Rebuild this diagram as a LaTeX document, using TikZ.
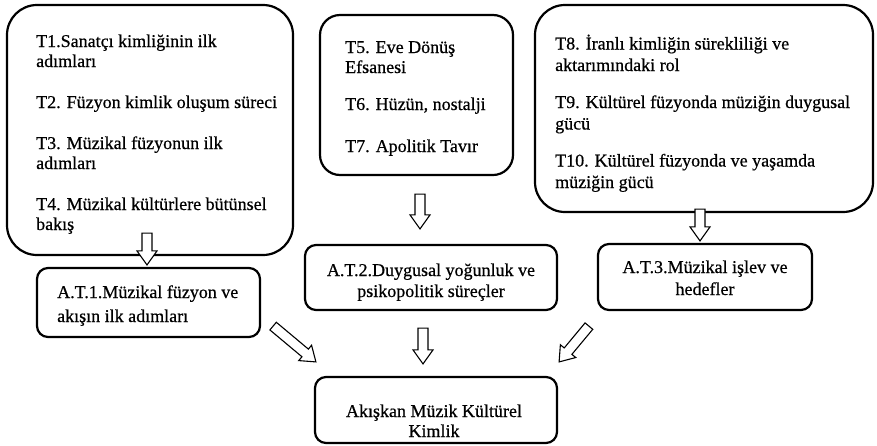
\documentclass[tikz,border=0pt]{standalone}
\usepackage{fontspec}
\setmainfont{Liberation Serif}[FakeBold=0.6]
\usetikzlibrary{calc}
\newcommand\blockarrow[2]{%
  \coordinate (hh) at ($(#2)!14pt!(#1)$);
  \draw[barrow] ($(#1)!5pt!90:(#2)$) -- ($(hh)!5pt!90:(#2)$) -- ($(hh)!10pt!90:(#2)$)
     -- (#2) -- ($(hh)!10pt!-90:(#2)$) -- ($(hh)!5pt!-90:(#2)$) -- ($(#1)!5pt!-90:(#2)$) -- cycle;}
\begin{document}
\begin{tikzpicture}[x=1pt,y=-1pt,
  frame/.style={draw=black, line width=2.2pt, rounded corners=#1, inner sep=0pt, fill=none},
  frame/.default=11pt,
  txt/.style={font=\fontsize{18}{#1}\selectfont, inner sep=0pt, align=left, anchor=base west},
  txt/.default=20,
  ctxt/.style={font=\fontsize{18}{#1}\selectfont, inner sep=0pt, align=center, anchor=base},
  ctxt/.default=21,
  barrow/.style={draw=black, line width=1.1pt, fill=white, line join=miter}]
\useasboundingbox (0,0) rectangle (877,445);
% frames
\node[frame=30pt, minimum width=286pt, minimum height=250pt] (b1) at (150,130) {};
\node[frame=20pt, minimum width=193pt, minimum height=160pt] (b2) at (416.5,95) {};
\node[frame=30pt, minimum width=338pt, minimum height=207pt] (b3) at (704,108.5) {};
\node[frame, minimum width=223pt, minimum height=69pt] (a1) at (148.5,302.5) {};
\node[frame, minimum width=252pt, minimum height=65pt] (a2) at (431,277.5) {};
\node[frame, minimum width=214pt, minimum height=66pt] (a3) at (705,277) {};
\node[frame, minimum width=242pt, minimum height=66pt] (fin) at (436,410) {};
% texts (anchored at the baseline of the last line)
\node[txt=20] (t1) at (36,230) {T1.Sanatçı kimliğinin ilk\\adımları\\[21pt]T2. Füzyon kimlik oluşum süreci\\[21pt]T3. Müzikal füzyonun ilk\\adımları\\[21pt]T4. Müzikal kültürlere bütünsel\\bakış};
\node[txt=20] (t2) at (345,152) {T5. Eve Dönüş\\Efsanesi\\[17pt]T6. Hüzün, nostalji\\[22pt]T7. Apolitik Tavır};
\node[txt=21.5] (t3) at (555,188) {T8. İranlı kimliğin sürekliliği ve\\aktarımındaki rol\\[15.5pt]T9. Kültürel füzyonda müziğin duygusal\\gücü\\[15.5pt]T10. Kültürel füzyonda ve yaşamda\\müziğin gücü};
\node[txt=24] (ta1) at (57,322) {A.T.1.Müzikal füzyon ve\\akışın ilk adımları};
\node[ctxt=21] (ta2) at (431,297) {A.T.2.Duygusal yoğunluk ve\\psikopolitik süreçler};
\node[ctxt=22] (ta3) at (705,295) {A.T.3.Müzikal işlev ve\\hedefler};
\node[ctxt=20] (tf) at (434,437) {Akışkan Müzik Kültürel\\Kimlik};
% arrow end points
\coordinate (s1) at ($(b1.south)+(-3,-23)$);
\coordinate (e1) at ($(a1.north)+(-1.5,-2)$);
\coordinate (s2) at ($(b2.south)+(3.5,18)$);
\coordinate (e2) at ($(a2.north)+(-11,-15)$);
\coordinate (s3) at ($(b3.south)+(-4,-4)$);
\coordinate (e3) at ($(a3.north)+(-5,-2)$);
\coordinate (s4) at ($(a2.south)+(-8,17)$);
\coordinate (e4) at ($(fin.north)+(-13,-12)$);
\coordinate (s5) at ($(a1.south east)+(12,-12)$);
\coordinate (e5) at ($(fin.north west)+(2,-14)$);
\coordinate (s6) at ($(a3.south west)+(-8,15)$);
\coordinate (e6) at ($(fin.north east)+(1,-14)$);
\blockarrow{s1}{e1}
\blockarrow{s2}{e2}
\blockarrow{s3}{e3}
\blockarrow{s4}{e4}
\blockarrow{s5}{e5}
\blockarrow{s6}{e6}
\end{tikzpicture}
\end{document}
